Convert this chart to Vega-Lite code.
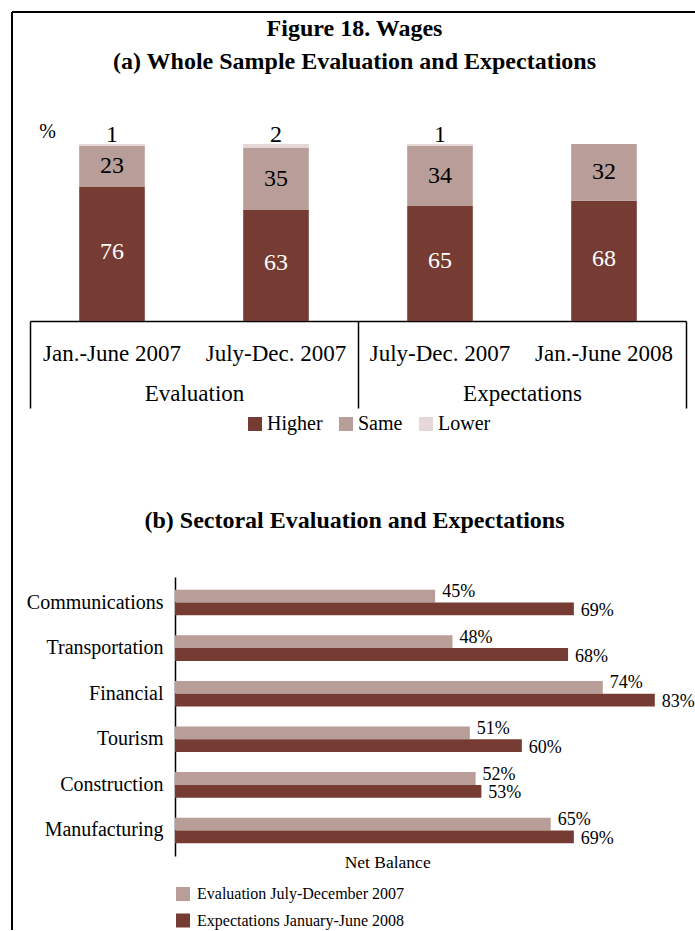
{
  "$schema": "https://vega.github.io/schema/vega-lite/v6.json",
  "width": 695,
  "height": 931,
  "autosize": {"type": "fit", "contains": "padding"},
  "padding": {"left": 11, "top": 11, "right": 0, "bottom": 0},
  "background": "white",
  "config": {
    "view": {"stroke": null},
    "font": "Liberation Serif",
    "axis": {"grid": false, "labelColor": "black", "titleColor": "black", "minExtent": 0, "labelFont": "Liberation Serif", "titleFont": "Liberation Serif"},
    "legend": {"labelColor": "black", "padding": 0, "labelFont": "Liberation Serif"}
  },
  "layer": [
    {
      "data": {"values": [{}]},
      "layer": [
        {
          "mark": {"type": "rule", "color": "black", "strokeWidth": 2},
          "encoding": {
            "x": {"datum": 0, "type": "quantitative",
              "scale": {"domain": [0, 1], "range": [0, 684], "nice": false, "zero": false},
              "axis": {"orient": "top", "offset": -37, "domain": false, "ticks": false, "labels": false,
                "title": ["Figure 18. Wages", "(a) Whole Sample Evaluation and Expectations"],
                "titleFont": "Liberation Serif", "titleFontSize": 24, "titleFontWeight": "bold", "titleLineHeight": 33,
                "titleBaseline": "top", "titlePadding": 0, "minExtent": 0, "maxExtent": 0}},
            "y": {"datum": 0, "type": "quantitative",
              "scale": {"domain": [0, 1], "range": [918, 0], "nice": false, "zero": false}, "axis": null},
            "y2": {"datum": 1}
          }
        },
        {
          "mark": {"type": "rule", "color": "black", "strokeWidth": 2},
          "encoding": {
            "x": {"datum": 0, "type": "quantitative",
              "axis": {"orient": "top", "offset": -496, "domain": false, "ticks": false, "labels": false,
                "title": "(b) Sectoral Evaluation and Expectations",
                "titleFont": "Liberation Serif", "titleFontSize": 24, "titleFontWeight": "bold",
                "titleBaseline": "top", "titlePadding": 0, "minExtent": 0, "maxExtent": 0}},
            "x2": {"datum": 1},
            "y": {"datum": 1, "type": "quantitative", "axis": null}
          }
        }
      ],
      "resolve": {"axis": {"x": "independent"}}
    },
    {
      "data": {"values": [
        {"key": "Jan.-June 2007|Evaluation", "series": "Higher", "ord": 1, "pct": 76},
        {"key": "Jan.-June 2007|Evaluation", "series": "Same", "ord": 2, "pct": 23},
        {"key": "Jan.-June 2007|Evaluation", "series": "Lower", "ord": 3, "pct": 1},
        {"key": "July-Dec. 2007|Evaluation", "series": "Higher", "ord": 1, "pct": 63},
        {"key": "July-Dec. 2007|Evaluation", "series": "Same", "ord": 2, "pct": 35},
        {"key": "July-Dec. 2007|Evaluation", "series": "Lower", "ord": 3, "pct": 2},
        {"key": "July-Dec. 2007|Expectations", "series": "Higher", "ord": 1, "pct": 65},
        {"key": "July-Dec. 2007|Expectations", "series": "Same", "ord": 2, "pct": 34},
        {"key": "July-Dec. 2007|Expectations", "series": "Lower", "ord": 3, "pct": 1},
        {"key": "Jan.-June 2008|Expectations", "series": "Higher", "ord": 1, "pct": 68},
        {"key": "Jan.-June 2008|Expectations", "series": "Same", "ord": 2, "pct": 32},
        {"key": "Jan.-June 2008|Expectations", "series": "Lower", "ord": 3, "pct": 0}
      ]},
      "transform": [
        {"stack": "pct", "groupby": ["key"], "sort": [{"field": "ord", "order": "ascending"}], "as": ["v0", "v1"]}
      ],
      "encoding": {
        "x": {"field": "key", "type": "nominal",
          "sort": ["Jan.-June 2007|Evaluation", "July-Dec. 2007|Evaluation", "July-Dec. 2007|Expectations", "Jan.-June 2008|Expectations"],
          "scale": {"type": "band", "domain": ["Jan.-June 2007|Evaluation", "July-Dec. 2007|Evaluation", "July-Dec. 2007|Expectations", "Jan.-June 2008|Expectations"],
            "range": [18, 674], "paddingInner": 0.6, "paddingOuter": 0.3},
          "axis": {"orient": "bottom", "offset": -610, "domain": true, "domainColor": "black", "domainWidth": 1.5,
            "ticks": false, "labelExpr": "split(datum.value, '|')[0]", "labelFontSize": 23, "labelPadding": 21,
            "labelBaseline": "top", "labelAngle": 0, "labelLimit": 300, "title": null, "minExtent": 0, "maxExtent": 0}}
      },
      "layer": [
        {
          "mark": {"type": "bar"},
          "encoding": {
            "y": {"field": "v1", "type": "quantitative", "title": "%",
              "scale": {"domain": [0, 100], "range": [309, 132], "nice": false, "zero": false},
              "axis": {"orient": "left", "offset": -35, "domain": false, "ticks": false, "labels": false,
                "title": "%", "titleAngle": 0, "titleY": 125, "titleAlign": "center", "titleBaseline": "alphabetic",
                "titlePadding": 0, "titleFontSize": 20, "titleFontWeight": "normal", "minExtent": 0, "maxExtent": 0}},
            "y2": {"field": "v0"},
            "color": {"field": "series", "type": "nominal",
              "scale": {"domain": ["Higher", "Same", "Lower"], "range": ["#763C33", "#B99D98", "#E6D8D8"]},
              "legend": {"orient": "none", "legendX": 233, "legendY": 402, "direction": "horizontal", "title": null,
                "symbolType": "square", "symbolSize": 196, "symbolStrokeWidth": 0, "symbolOpacity": 1,
                "labelFontSize": 20, "labelOffset": 2, "columnPadding": 13, "labelLimit": 200}}
          }
        },
        {
          "transform": [{"filter": "datum.series === 'Higher'"}, {"fold": ["v0", "v1"], "as": ["edge", "pos"]}],
          "mark": {"type": "text", "color": "white", "fontSize": 24, "baseline": "middle", "dy": -2},
          "encoding": {
            "y": {"aggregate": "mean", "field": "pos", "type": "quantitative", "title": "%"},
            "text": {"field": "pct", "type": "quantitative"}
          }
        },
        {
          "transform": [{"filter": "datum.series === 'Same'"}, {"fold": ["v0", "v1"], "as": ["edge", "pos"]}],
          "mark": {"type": "text", "color": "black", "fontSize": 24, "baseline": "middle"},
          "encoding": {
            "y": {"aggregate": "mean", "field": "pos", "type": "quantitative", "title": "%"},
            "text": {"field": "pct", "type": "quantitative"}
          }
        },
        {
          "transform": [{"filter": "datum.series === 'Lower' && datum.pct > 0"}],
          "mark": {"type": "text", "color": "black", "fontSize": 24, "baseline": "alphabetic", "dy": -2},
          "encoding": {
            "y": {"field": "v1", "type": "quantitative", "title": "%"},
            "text": {"field": "pct", "type": "quantitative"}
          }
        }
      ]
    },
    {
      "data": {"values": [{"group": "Evaluation"}, {"group": "Expectations"}]},
      "mark": {"type": "point", "opacity": 0},
      "encoding": {
        "x": {"field": "group", "type": "nominal",
          "scale": {"type": "band", "domain": ["Evaluation", "Expectations"], "range": [18, 674], "paddingInner": 0, "paddingOuter": 0},
          "axis": {"orient": "bottom", "offset": -610, "domain": false, "ticks": true, "tickBand": "extent",
            "tickSize": 87, "tickColor": "black", "tickWidth": 1.5, "labelFontSize": 23, "labelPadding": -26,
            "labelBaseline": "top", "labelAngle": 0, "title": null, "minExtent": 0, "maxExtent": 0}}
      }
    },
    {
      "data": {"values": [
        {"sector": "Communications", "series": "Evaluation  July-December 2007", "value": 0.45},
        {"sector": "Communications", "series": "Expectations January-June 2008", "value": 0.69},
        {"sector": "Transportation", "series": "Evaluation  July-December 2007", "value": 0.48},
        {"sector": "Transportation", "series": "Expectations January-June 2008", "value": 0.68},
        {"sector": "Financial", "series": "Evaluation  July-December 2007", "value": 0.74},
        {"sector": "Financial", "series": "Expectations January-June 2008", "value": 0.83},
        {"sector": "Tourism", "series": "Evaluation  July-December 2007", "value": 0.51},
        {"sector": "Tourism", "series": "Expectations January-June 2008", "value": 0.60},
        {"sector": "Construction", "series": "Evaluation  July-December 2007", "value": 0.52},
        {"sector": "Construction", "series": "Expectations January-June 2008", "value": 0.53},
        {"sector": "Manufacturing", "series": "Evaluation  July-December 2007", "value": 0.65},
        {"sector": "Manufacturing", "series": "Expectations January-June 2008", "value": 0.69}
      ]},
      "encoding": {
        "y": {"field": "sector", "type": "nominal",
          "sort": ["Communications", "Transportation", "Financial", "Tourism", "Construction", "Manufacturing"],
          "scale": {"type": "band", "domain": ["Communications", "Transportation", "Financial", "Tourism", "Construction", "Manufacturing"],
            "range": [565, 844], "paddingInner": 0.44, "paddingOuter": 0.28},
          "axis": {"orient": "left", "offset": -163, "domain": true, "domainColor": "black", "domainWidth": 1.5,
            "ticks": false, "labelFontSize": 20, "labelPadding": 12, "labelLimit": 300, "title": null, "minExtent": 0, "maxExtent": 0}},
        "yOffset": {"field": "series", "type": "nominal",
          "sort": ["Evaluation  July-December 2007", "Expectations January-June 2008"]},
        "x": {"field": "value", "type": "quantitative",
          "scale": {"domain": [0, 0.734], "range": [163, 587.3], "nice": false},
          "axis": {"orient": "bottom", "offset": -75, "domain": false, "ticks": false, "labels": false,
            "title": "Net Balance", "titleFont": "Liberation Serif", "titleFontSize": 17.5, "titleFontWeight": "normal", "titlePadding": -3,
            "minExtent": 0, "maxExtent": 0}}
      },
      "layer": [
        {
          "mark": {"type": "bar"},
          "encoding": {
            "color": {"field": "series", "type": "nominal",
              "scale": {"domain": ["Evaluation  July-December 2007", "Expectations January-June 2008"], "range": ["#B99D98", "#763C33"]},
              "legend": {"orient": "none", "legendX": 163, "legendY": 874, "direction": "vertical", "title": null,
                "symbolType": "square", "symbolSize": 196, "symbolStrokeWidth": 0, "symbolOpacity": 1,
                "labelFontSize": 16, "labelOffset": 6, "rowPadding": 10.5, "labelLimit": 400}}
          }
        },
        {
          "transform": [{"filter": "datum.series === 'Evaluation  July-December 2007'"}],
          "mark": {"type": "text", "align": "left", "baseline": "middle", "dx": 7, "dy": -4, "fontSize": 18, "color": "black"},
          "encoding": {"text": {"field": "value", "type": "quantitative", "format": ".0%"}}
        },
        {
          "transform": [{"filter": "datum.series === 'Expectations January-June 2008'"}],
          "mark": {"type": "text", "align": "left", "baseline": "middle", "dx": 7, "dy": 2, "fontSize": 18, "color": "black"},
          "encoding": {"text": {"field": "value", "type": "quantitative", "format": ".0%"}}
        }
      ]
    }
  ],
  "resolve": {"scale": {"x": "independent", "y": "independent", "color": "independent"}}
}
